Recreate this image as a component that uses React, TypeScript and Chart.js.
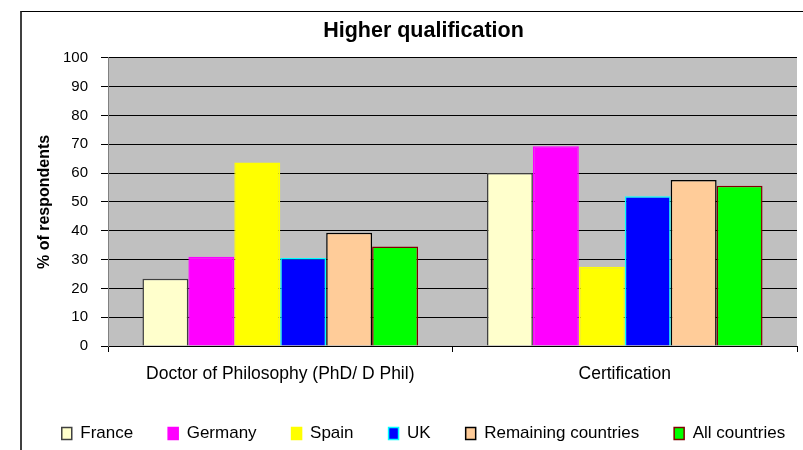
import React, { useEffect, useRef } from "react";
import { Chart, registerables } from "chart.js";

Chart.register(...registerables);

const categories = ["Doctor of Philosophy (PhD/ D Phil)", "Certification"];
const seriesNames = ["France", "Germany", "Spain", "UK", "Remaining countries", "All countries"];
const france = [23.3, 60.0];
const germany = [31.0, 69.3];
const spain = [63.7, 27.5];
const uk = [30.5, 52.0];
const remaining = [39.3, 57.6];
const allCountries = [34.5, 55.6];
const yTicks = [0, 10, 20, 30, 40, 50, 60, 70, 80, 90, 100];

const FONT = '"Liberation Sans", Arial, sans-serif';

const plotBg = {
  id: "plotBg",
  beforeDraw(chart: any) {
    const { ctx, chartArea } = chart;
    ctx.save();
    ctx.fillStyle = "#C0C0C0";
    ctx.fillRect(chartArea.left, chartArea.top, chartArea.right - chartArea.left, chartArea.bottom - chartArea.top);
    ctx.restore();
  },
};

export default function App() {
  const ref = useRef<HTMLCanvasElement>(null);
  useEffect(() => {
    if (!ref.current) return;
    Chart.defaults.color = "#000";
    Chart.defaults.font.family = FONT;
    const values = [france, germany, spain, uk, remaining, allCountries];
    const fills = ["#FFFFCC", "#FF00FF", "#FFFF00", "#0000FF", "#FFCC99", "#00FF00"];
    const borders = ["#404040", "#FF00FF", "#FFFF00", "#00FFFF", "#000000", "#800000"];
    const chart = new Chart(ref.current, {
      type: "bar",
      data: {
        labels: categories,
        datasets: seriesNames.map((name, i) => ({
          label: name,
          data: values[i],
          backgroundColor: fills[i],
          borderColor: borders[i],
          borderWidth: 1.5,
          categoryPercentage: 0.8,
          barPercentage: 1.0,
          yAxisID: "y",
        })),
      },
      options: {
        responsive: false,
        animation: false,
        devicePixelRatio: 1,
        layout: { padding: 0 },
        plugins: {
          tooltip: { enabled: false },
          title: {
            display: true,
            text: "Higher qualification",
            color: "#000",
            font: { family: FONT, size: 21.5, weight: "bold" },
            padding: { top: 6, bottom: 14 },
          },
          legend: {
            position: "bottom",
            labels: {
              color: "#000",
              font: { family: FONT, size: 17 },
              boxWidth: 10,
              boxHeight: 12,
              padding: 35,
            },
          },
        },
        scales: {
          x: {
            grid: {
              drawOnChartArea: false,
              drawTicks: true,
              tickLength: 6,
              color: "#000",
            },
            border: { color: "#000", width: 1 },
            ticks: {
              color: "#000",
              font: { family: FONT, size: 17.5 },
              padding: 12,
              maxRotation: 0,
            },
            afterFit: (scale: any) => {
              scale.height = 44;
            },
          },
          y: {
            min: 0,
            max: 100,
            afterBuildTicks: (scale: any) => {
              scale.ticks = yTicks.map((v) => ({ value: v }));
            },
            grid: {
              color: "#000",
              lineWidth: 1,
              tickLength: 7,
              drawTicks: true,
            },
            border: { color: "#808080", width: 1 },
            ticks: {
              color: "#000",
              font: { family: FONT, size: 15 },
              padding: 13,
            },
            title: {
              display: true,
              text: "% of respondents",
              color: "#000",
              font: { family: FONT, size: 16, weight: "bold" },
              padding: { top: 12.5, bottom: 0 },
            },
            afterFit: (scale: any) => {
              scale.width = 86;
            },
          },
          y2: {
            position: "right",
            min: 0,
            max: 100,
            grid: { display: false, drawTicks: false },
            border: { display: false },
            ticks: { display: false },
            afterFit: (scale: any) => {
              scale.width = 28;
            },
          },
        },
      },
      plugins: [plotBg],
    });
    return () => chart.destroy();
  }, []);

  return (
    <div
      style={{
        position: "fixed",
        left: 0,
        top: 0,
        width: 803,
        height: 450,
        overflow: "hidden",
        background: "#fff",
      }}
    >
      <div
        style={{
          position: "absolute",
          left: 20,
          top: 11,
          borderLeft: "2px solid #404040",
          borderTop: "1px solid #000",
          width: 806,
          height: 480,
        }}
      >
        <canvas ref={ref} width={803} height={440} style={{ display: "block" }} />
      </div>
    </div>
  );
}
